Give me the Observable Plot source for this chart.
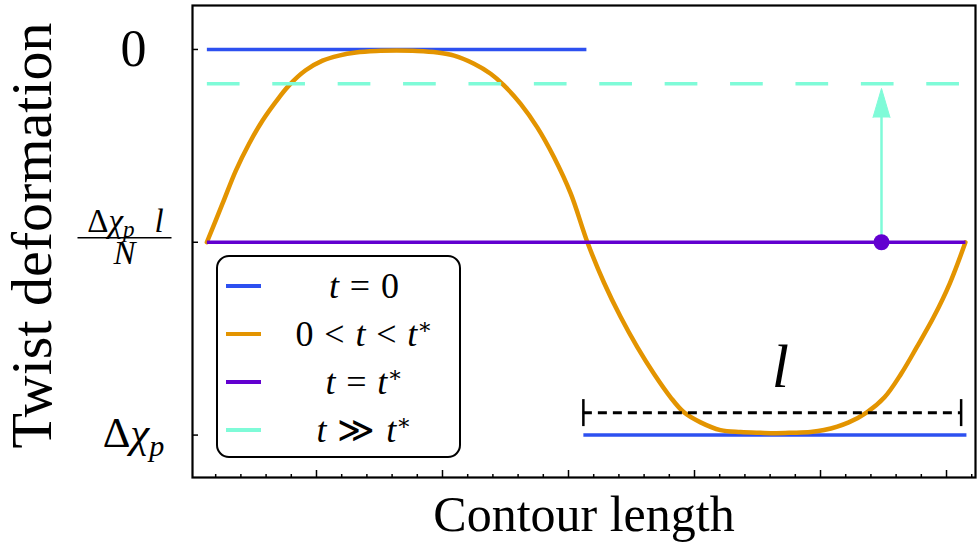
<!DOCTYPE html>
<html>
<head>
<meta charset="utf-8">
<script src="https://cdn.jsdelivr.net/npm/d3@7"></script>
<script src="https://cdn.jsdelivr.net/npm/@observablehq/plot@0.6"></script>
<style>
html, body { margin: 0; padding: 0; background: #fff; }
#wrap { position: relative; width: 980px; height: 543px; font-family: "Liberation Serif", "DejaVu Serif", serif; }
#legend { position: absolute; left: 216px; top: 255px; width: 245px; height: 203px; box-sizing: border-box;
  border: 2px solid #000; border-radius: 13px; background: #fff; padding-top: 5px; }
.row { height: 48px; display: flex; align-items: center; }
.sw { width: 35px; height: 4px; margin-left: 8px; flex: none; }
.lab { flex: 1; text-align: center; font-size: 36px; padding-left: 8px; white-space: nowrap; line-height: 1; }
.lab sup { font-size: 0.62em; vertical-align: 0.55em; line-height: 0; }
.lab .op { margin: 0 0.3em; }
</style>
</head>
<body>
<div id="wrap"></div>
<script>
// ---------- data ----------
const seriesNames = ["t = 0", "0 < t < t*", "t = t*", "t ≫ t*"];
const seriesColors = ["#2d50f0", "#e39400", "#6200d0", "#7ffbd8"];

const xTicksMinor = [1, 2, 3, 4, 6, 7, 8, 9, 11, 12, 13, 14, 16, 17, 18, 19, 21, 22, 23, 24, 26, 27, 28, 29, 31];
const xTicksMajor = [5, 10, 15, 20, 25, 30];
const yTicks = [0, -0.5, -1];
const yTickLabels = ["0", "Δχp l/N", "Δχp"];

// t = 0 (two segments)
const t0X = [0.65, 15.71, 15.59, 30.79];
const t0Y = [0, 0, -1, -1];
const t0Seg = ["top", "top", "bottom", "bottom"];

// 0 < t < t*
const curveX = [0.65, 1.27, 1.80, 2.32, 2.86, 3.52, 3.91, 4.57, 5.24, 5.89, 6.56, 7.37, 8.18, 8.99, 9.80,
  10.46, 11.25, 11.91, 12.44, 13.10, 13.76, 14.42, 15.09, 15.75, 16.41, 17.07, 17.73, 18.39, 19.05, 19.58,
  20.24, 21.03, 21.83, 22.62, 23.24, 23.86, 24.60, 25.14, 26.12, 26.84, 27.54, 28.20, 28.82, 29.49, 30.14, 30.75];
const curveY = [-0.500, -0.400, -0.314, -0.245, -0.184, -0.124, -0.093, -0.054, -0.029, -0.016, -0.008, -0.004, -0.003, -0.004, -0.008,
  -0.016, -0.037, -0.063, -0.093, -0.141, -0.202, -0.279, -0.374, -0.500, -0.605, -0.694, -0.772, -0.841, -0.902, -0.941,
  -0.967, -0.987, -0.992, -0.994, -0.995, -0.994, -0.992, -0.987, -0.967, -0.941, -0.902, -0.841, -0.772, -0.694, -0.605, -0.500];

// t = t*
const tStarX = [0.65, 30.75];
const tStarY = [-0.5, -0.5];

// t >> t*
const tLongX = [0.65, 30.75];
const tLongY = [-0.089, -0.089];

// annotations
const arrowX = [27.42];
const arrowFromY = [-0.5];
const arrowHeadBaseY = [-0.1764];
const lBarX1 = [15.59];
const lBarX2 = [30.58];
const lBarY = [-0.942];
const lCapX = [15.59, 30.58];
const lCapY1 = [-0.908, -0.908];
const lCapY2 = [-0.978, -0.978];
const lLabel = ["l"];
const lLabelX = [23.41];
const lLabelY = [-0.825];

const xTitle = ["Contour length"];
const yTitle = ["Twist deformation"];

// ---------- tables ----------
const t0Data = t0X.map((x, i) => ({x, y: t0Y[i], seg: t0Seg[i]}));
const curveData = curveX.map((x, i) => ({x, y: curveY[i]}));
const tStarData = tStarX.map((x, i) => ({x, y: tStarY[i]}));
const tLongData = tLongX.map((x, i) => ({x, y: tLongY[i]}));
const arrowData = arrowX.map((x, i) => ({x, y1: arrowFromY[i], y2: arrowHeadBaseY[i]}));
const lBarData = lBarX1.map((x1, i) => ({x1, x2: lBarX2[i], y: lBarY[i]}));
const lCapData = lCapX.map((x, i) => ({x, y1: lCapY1[i], y2: lCapY2[i]}));
const lLabelData = lLabel.map((t, i) => ({t, x: lLabelX[i], y: lLabelY[i]}));

const chart = Plot.plot({
  width: 980,
  height: 543,
  marginLeft: 192,
  marginRight: 5,
  marginTop: 5,
  marginBottom: 66,
  x: {domain: [0.08, 31.15]},
  y: {domain: [-1.11, 0.114]},
  style: {fontFamily: '"Liberation Serif", "DejaVu Serif", serif', background: "white", color: "black"},
  marks: [
    Plot.line(t0Data, {x: "x", y: "y", z: "seg", stroke: seriesColors[0], strokeWidth: 3.5, strokeLinecap: "butt"}),
    Plot.line(curveData, {x: "x", y: "y", curve: "catmull-rom", stroke: seriesColors[1], strokeWidth: 4.5}),
    Plot.line(tStarData, {x: "x", y: "y", stroke: seriesColors[2], strokeWidth: 3.5, strokeLinecap: "butt"}),
    Plot.line(tLongData, {x: "x", y: "y", stroke: seriesColors[3], strokeWidth: 3.5, strokeLinecap: "butt", strokeDasharray: "32.7 32.7"}),
    // dimension marker
    Plot.ruleY(lBarData, {x1: "x1", x2: "x2", y: "y", stroke: "black", strokeWidth: 3, strokeDasharray: "9 6"}),
    Plot.ruleX(lCapData, {x: "x", y1: "y1", y2: "y2", stroke: "black", strokeWidth: 2.5}),
    Plot.text(lLabelData, {x: "x", y: "y", text: "t", fontSize: 62, fontStyle: "italic", lineAnchor: "middle", fill: "black"}),
    // arrow
    Plot.ruleX(arrowData, {x: "x", y1: "y1", y2: "y2", stroke: seriesColors[3], strokeWidth: 2.5}),
    Plot.vector(arrowData, {x: "x", y: "y2", length: 29, r: 8.5, shape: "spike", anchor: "start", fill: seriesColors[3], stroke: seriesColors[3], strokeWidth: 1}),
    Plot.dot(arrowData, {x: "x", y: "y1", r: 8, fill: seriesColors[2], stroke: "none"}),
    // axes
    Plot.axisX(xTicksMinor, {anchor: "bottom", tickSize: -3, tickFormat: () => "", strokeWidth: 1.5, label: null}),
    Plot.axisX(xTicksMajor, {anchor: "bottom", tickSize: -7, tickFormat: () => "", strokeWidth: 1.5, label: null}),
    Plot.axisY(yTicks, {anchor: "left", tickSize: -6, tickFormat: () => "", strokeWidth: 1.5, label: null}),
    Plot.axisY(yTicks, {anchor: "left", tickSize: 0, tickPadding: 59, textAnchor: "middle", fontSize: 52, fill: "black",
      tickFormat: (d) => yTickLabels[yTicks.indexOf(d)], label: null}),
    Plot.frame({stroke: "black", strokeWidth: 2.2}),
    // titles
    Plot.text(yTitle, {text: (d) => d, frameAnchor: "left", rotate: -90, dx: -160, dy: -6, fontSize: 58, textAnchor: "middle", lineAnchor: "middle", fill: "black"}),
    Plot.text(xTitle, {text: (d) => d, frameAnchor: "bottom", dy: 37, fontSize: 50, textAnchor: "middle", lineAnchor: "middle", fill: "black"})
  ]
});

// typeset the math tick labels
d3.select(chart).selectAll('g[aria-label="y-axis tick label"] text').each(function () {
  const t = d3.select(this);
  const label = this.textContent;
  if (label === yTickLabels[2]) {
    t.text(null).attr("font-size", 43).attr("y", "0.28em");
    t.append("tspan").text("Δ");
    t.append("tspan").attr("font-style", "italic").text("χ");
    t.append("tspan").attr("font-style", "italic").attr("font-size", "0.7em").attr("dy", "0.3em").text("p");
  } else if (label === yTickLabels[1]) {
    t.text(null).attr("font-size", 33).attr("y", null);
    t.append("tspan").attr("x", -8).attr("y", -10).text("Δ");
    t.append("tspan").attr("font-style", "italic").text("χ");
    t.append("tspan").attr("font-style", "italic").attr("font-size", "0.7em").attr("dy", 5).text("p");
    t.append("tspan").attr("font-style", "italic").attr("dy", -5).attr("dx", 20).text("l");
    t.append("tspan").attr("x", -9).attr("y", 22).attr("font-style", "italic").text("N");
    d3.select(this.parentNode).append("line")
      .attr("transform", t.attr("transform"))
      .attr("x1", -56).attr("x2", 38).attr("y1", -4.5).attr("y2", -4.5)
      .attr("stroke", "black").attr("stroke-width", 1.5);
  }
});

const wrap = document.getElementById("wrap");
wrap.appendChild(chart);

// legend
const legend = document.createElement("div");
legend.id = "legend";
seriesNames.forEach((name, i) => {
  const row = document.createElement("div");
  row.className = "row";
  const sw = document.createElement("div");
  sw.className = "sw";
  sw.style.background = seriesColors[i];
  const lab = document.createElement("div");
  lab.className = "lab";
  lab.innerHTML = name
    .replace(/ ([=<≫]) /g, '<span class="op">$1</span>')
    .replace(/t/g, "<i>t</i>")
    .replace(/\*/g, "<sup>∗</sup>");
  row.appendChild(sw);
  row.appendChild(lab);
  legend.appendChild(row);
});
wrap.appendChild(legend);
</script>
</body>
</html>
